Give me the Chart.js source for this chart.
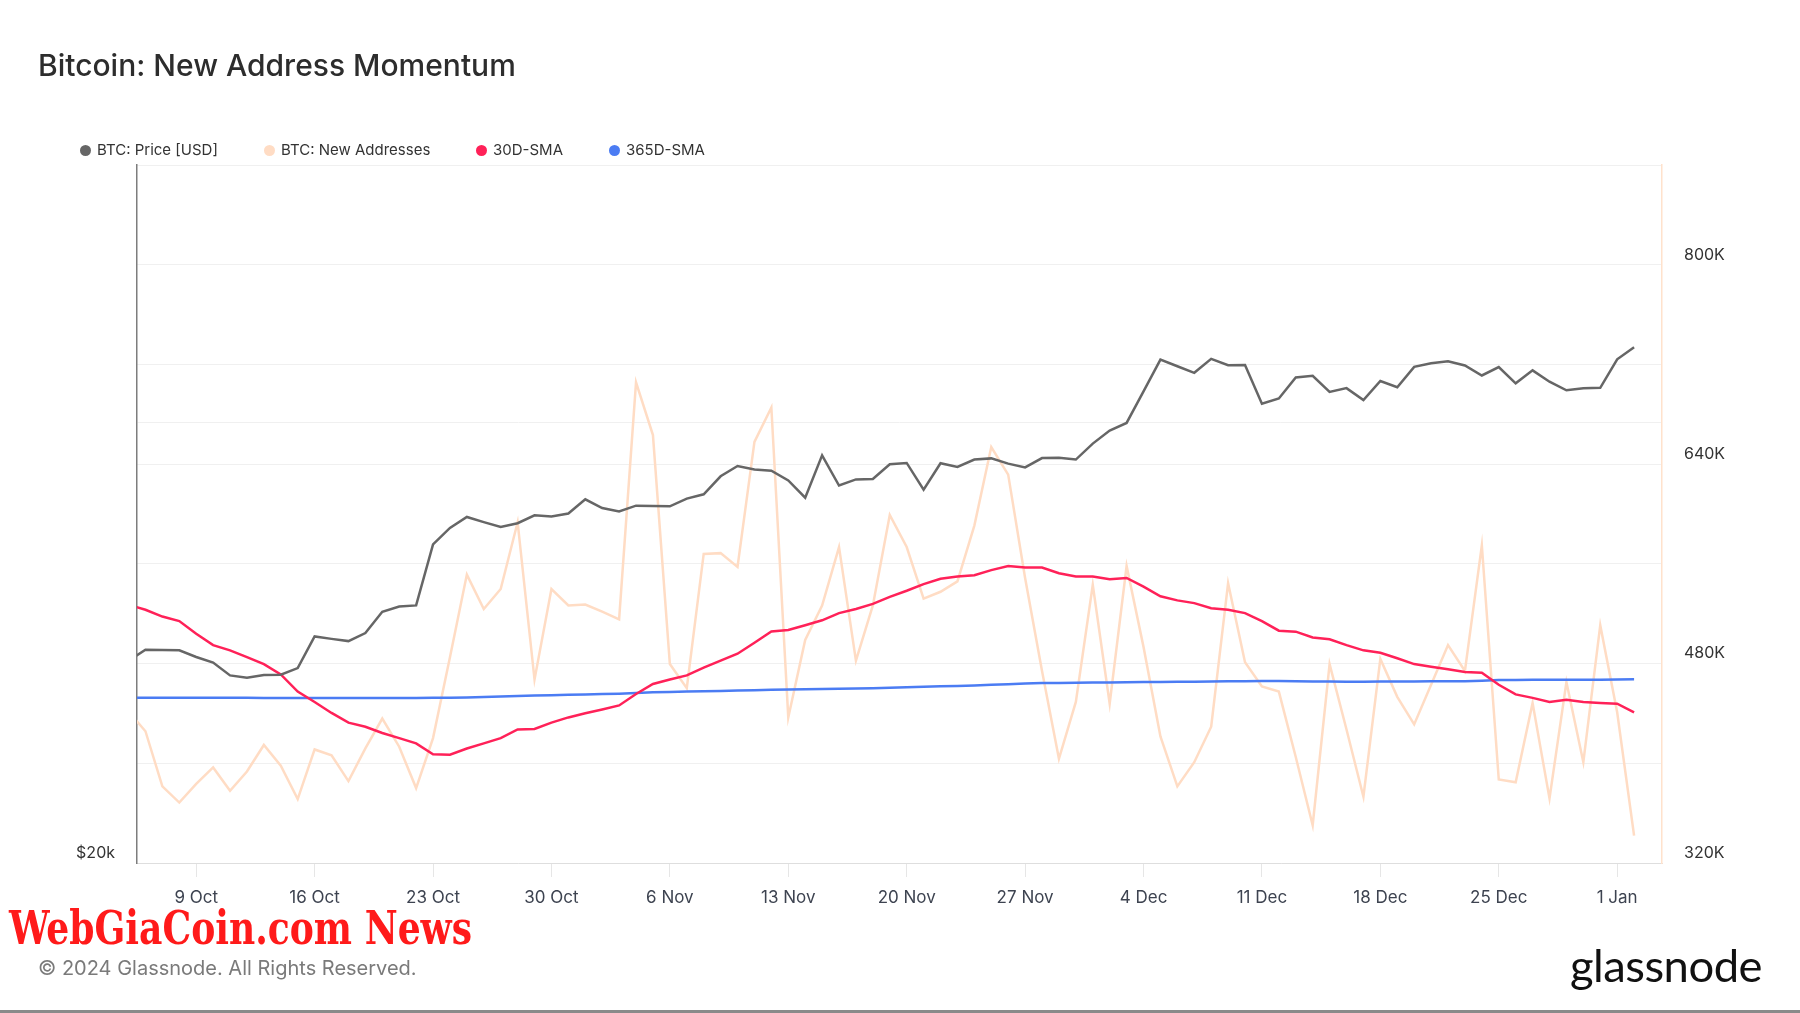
<!DOCTYPE html>
<html>
<head>
<meta charset="utf-8">
<title>Bitcoin: New Address Momentum</title>
<script src="https://cdn.jsdelivr.net/npm/chart.js@4.4.0/dist/chart.umd.min.js"></script>
<style>
  html, body { margin: 0; padding: 0; background: #fff; }
  body { width: 1800px; height: 1013px; position: relative; overflow: hidden; font-family: Inter, "Noto Sans", sans-serif; }
  #wrap { position: absolute; left: 0; top: 0; width: 1800px; height: 1013px; }
  #title { position: absolute; left: 38px; top: 45px; font-size: 30px; line-height: 40px; font-weight: 500; color: #2d2d2d; }
  .lg { position: absolute; top: 140px; height: 20px; line-height: 20px; font-size: 15px; color: #333; white-space: nowrap; }
  .lg i { position: absolute; left: 0; top: 4.5px; width: 11px; height: 11px; border-radius: 50%; }
  .lg span { position: absolute; left: 17px; top: 0; }
  #mark { position: absolute; left: 9px; top: 904px; font-family: "DejaVu Serif", serif; font-weight: bold; font-stretch: condensed;
          font-size: 47px; line-height: 47px; color: #ff1a1a; white-space: nowrap; transform-origin: 0 0; }
  #copy { position: absolute; left: 38px; top: 956px; font-size: 20px; line-height: 24px; color: #7a7a7a; }
  #logo { position: absolute; left: 1570px; top: 940px; font-family: Lato, sans-serif; font-size: 44px; line-height: 50px; color: #111;
          white-space: nowrap; transform-origin: 0 0; letter-spacing: -0.5px; }
  #bottomline { position: absolute; left: 0; top: 1010px; width: 1800px; height: 3px; background: #8a8a8a; }
</style>
</head>
<body>
<div id="wrap"><canvas id="chart"></canvas></div>
<div id="title">Bitcoin: New Address Momentum</div>
<div class="lg" style="left:80px"><i style="background:#666"></i><span>BTC: Price [USD]</span></div>
<div class="lg" style="left:264px"><i style="background:#ffdcc4"></i><span>BTC: New Addresses</span></div>
<div class="lg" style="left:476px"><i style="background:#ff2158"></i><span>30D-SMA</span></div>
<div class="lg" style="left:609px"><i style="background:#4b7cf3"></i><span>365D-SMA</span></div>
<div id="mark">WebGiaCoin.com News</div>
<div id="copy">© 2024 Glassnode. All Rights Reserved.</div>
<div id="logo">glassnode</div>
<div id="bottomline"></div>
<script>
'use strict';

// days counted from 1 Oct 2023; first value is 5 Oct 2023, last is 2 Jan 2024
let startDay = 4;
let tickDays = [8, 15, 22, 29, 36, 43, 50, 57, 64, 71, 78, 85, 92];
let tickLabels = ['9 Oct', '16 Oct', '23 Oct', '30 Oct', '6 Nov', '13 Nov', '20 Nov', '27 Nov', '4 Dec', '11 Dec', '18 Dec', '25 Dec', '1 Jan'];

// BTC price in USD
let price = [
  27500, 27980, 27970, 27950, 27660, 27420, 26870, 26770, 26890, 26900,
  27180, 28570, 28460, 28360, 28720, 29700, 29950, 30000, 33020, 33890,
  34480, 34200, 33940, 34140, 34570, 34510, 34670, 35450, 34970, 34780,
  35100, 35080, 35060, 35490, 35730, 36760, 37360, 37150, 37080, 36520,
  35540, 37990, 36230, 36580, 36600, 37460, 37540, 35990, 37520, 37300,
  37740, 37810, 37500, 37280, 37830, 37850, 37740, 38700, 39500, 39980,
  42020, 44170, 43710, 43260, 44220, 43780, 43790, 41210, 41550, 42950,
  43060, 41980, 42230, 41440, 42710, 42290, 43670, 43910, 44060, 43760,
  43080, 43650, 42550, 43430, 42660, 42090, 42230, 42250, 44190, 45040
];

// new addresses, thousands
let newAddresses = [
  441.5, 425.7, 381.5, 368.5, 383.4, 396.7, 377.9, 393.4, 414.7, 398.1,
  371.3, 411.1, 406.4, 385.7, 411.9, 435.9, 413.3, 380.1, 420.2, 485.1,
  551.4, 523.8, 539.8, 593.4, 467.2, 539.8, 526.6, 527.4, 521.6, 515.5,
  705.6, 663.3, 479.6, 460.3, 568.0, 568.6, 557.5, 657.8, 685.4, 436.8,
  498.9, 526.6, 573.5, 482.4, 526.6, 599.2, 573.5, 532.1, 537.6, 545.9,
  590.7, 653.7, 631.6, 548.7, 474.1, 403.6, 449.2, 543.1, 447.8, 558.3,
  493.4, 421.6, 381.5, 400.9, 429.3, 544.5, 481.0, 461.6, 457.5, 405.0,
  350.3, 479.6, 427.1, 373.2, 483.7, 453.3, 431.2, 463.0, 494.8, 474.1,
  574.9, 387.0, 384.8, 448.4, 371.8, 465.2, 400.9, 510.8, 440.9, 342.0
];

let sma30 = [
  527.1, 523.2, 517.7, 514.1, 503.9, 494.8, 490.6, 485.1, 479.6, 471.3,
  457.5, 449.2, 440.4, 432.6, 429.3, 424.3, 420.2, 416.0, 407.2, 406.9,
  411.9, 416.0, 420.2, 427.1, 427.6, 432.6, 436.8, 440.1, 443.1, 446.4,
  455.6, 463.6, 467.2, 470.5, 476.8, 482.4, 487.9, 496.7, 505.8, 506.9,
  510.8, 514.7, 520.5, 523.8, 527.9, 533.5, 538.4, 543.7, 548.1, 549.8,
  550.9, 555.0, 558.3, 557.0, 557.0, 552.5, 549.8, 549.8, 547.6, 548.7,
  541.8, 534.0, 530.7, 528.5, 524.4, 523.2, 520.5, 514.1, 506.4, 505.6,
  500.9, 499.5, 494.8, 490.6, 488.7, 484.3, 479.6, 477.4, 475.4, 473.2,
  472.7, 463.0, 455.3, 452.5, 449.2, 450.9, 449.2, 448.4, 447.8, 440.9
];

let sma365 = [
  452.5, 452.5, 452.5, 452.5, 452.5, 452.5, 452.5, 452.5, 452.4, 452.4,
  452.4, 452.4, 452.3, 452.3, 452.3, 452.3, 452.4, 452.4, 452.5, 452.6,
  452.8, 453.1, 453.5, 454.0, 454.3, 454.6, 454.9, 455.2, 455.5, 455.8,
  456.3, 456.9, 457.2, 457.5, 457.7, 458.0, 458.3, 458.6, 458.9, 459.1,
  459.4, 459.6, 459.8, 460.0, 460.3, 460.7, 461.0, 461.4, 461.8, 462.1,
  462.5, 463.0, 463.5, 464.0, 464.4, 464.5, 464.7, 464.8, 464.9, 465.0,
  465.2, 465.3, 465.4, 465.5, 465.6, 465.8, 465.9, 466.0, 466.0, 465.8,
  465.7, 465.6, 465.5, 465.5, 465.6, 465.7, 465.7, 465.8, 465.8, 465.9,
  466.2, 466.8, 466.9, 467.0, 467.0, 467.1, 467.0, 467.1, 467.3, 467.4
];

function toPoints(values) {
  let pts = [];
  for (let i = 0; i < values.length; i++) {
    pts.push({ x: startDay + i, y: values[i] });
  }
  return pts;
}

Chart.defaults.font.family = 'Inter, "Noto Sans", sans-serif';
Chart.defaults.color = '#333';

let lineStyle = { pointRadius: 0, pointHoverRadius: 0, borderWidth: 2.5, tension: 0, clip: 0 };

let data = {
  datasets: [
    Object.assign({ label: 'BTC: Price [USD]', data: toPoints(price), borderColor: '#666666', yAxisID: 'yPrice', order: 0 }, lineStyle),
    Object.assign({ label: 'BTC: New Addresses', data: toPoints(newAddresses), borderColor: '#ffdcc4', yAxisID: 'yAddr', order: 3 }, lineStyle),
    Object.assign({ label: '30D-SMA', data: toPoints(sma30), borderColor: '#ff2158', yAxisID: 'yAddr', order: 1 }, lineStyle),
    Object.assign({ label: '365D-SMA', data: toPoints(sma365), borderColor: '#4b7cf3', yAxisID: 'yAddr', order: 2 }, lineStyle)
  ]
};

let config = {
  type: 'line',
  data: data,
  options: {
    responsive: true,
    maintainAspectRatio: false,
    animation: false,
    devicePixelRatio: 1,
    layout: { padding: { top: 165, left: 0, right: 0, bottom: 0 } },
    plugins: { legend: { display: false }, tooltip: { enabled: false } },
    scales: {
      x: {
        type: 'linear',
        min: 4.5,
        max: 94.65,
        afterBuildTicks: function (s) { s.ticks = tickDays.map(function (d) { return { value: d }; }); },
        afterFit: function (s) { s.height = 150; },
        ticks: {
          font: { size: 17 },
          color: '#3d4350',
          padding: 11,
          maxRotation: 0,
          autoSkip: false,
          callback: function (v, i) { return tickLabels[i]; }
        },
        grid: { drawOnChartArea: false, drawTicks: true, tickLength: 14, color: '#e6e6e6' },
        border: { display: true, color: '#dedede', width: 1 }
      },
      yPrice: {
        type: 'logarithmic',
        position: 'left',
        min: 20000,
        max: 60000,
        afterBuildTicks: function (s) { s.ticks = [{ value: 20000 }, { value: 40000 }, { value: 60000 }]; },
        afterFit: function (s) { s.width = 137; },
        ticks: {
          font: { size: 16 },
          color: '#333',
          padding: 22,
          labelOffset: -10,
          callback: function (v) { return v === 20000 ? '$20k' : ''; }
        },
        grid: { drawTicks: false, color: '#f0f0f0' },
        border: { display: true, color: '#7d7d7d', width: 1.5 }
      },
      yAddr: {
        type: 'linear',
        position: 'right',
        min: 320,
        max: 880,
        afterFit: function (s) { s.width = 138; },
        ticks: {
          stepSize: 80,
          font: { size: 16 },
          color: '#333',
          padding: 22,
          labelOffset: -10,
          callback: function (v) { return (v - 320) % 160 === 0 ? v + 'K' : ''; }
        },
        grid: { drawTicks: false, color: '#f0f0f0' },
        border: { display: true, color: '#ffe2cc', width: 1.5 }
      }
    }
  }
};

let myChart = new Chart(document.getElementById('chart'), config);

// squeeze the overlay texts to the widths they have in the picture
function fitWidth(id, target) {
  let el = document.getElementById(id);
  let w = el.getBoundingClientRect().width;
  if (w > 0) { el.style.transform = 'scaleX(' + (target / w) + ')'; }
}
fitWidth('mark', 463);
fitWidth('logo', 192);
</script>
</body>
</html>
